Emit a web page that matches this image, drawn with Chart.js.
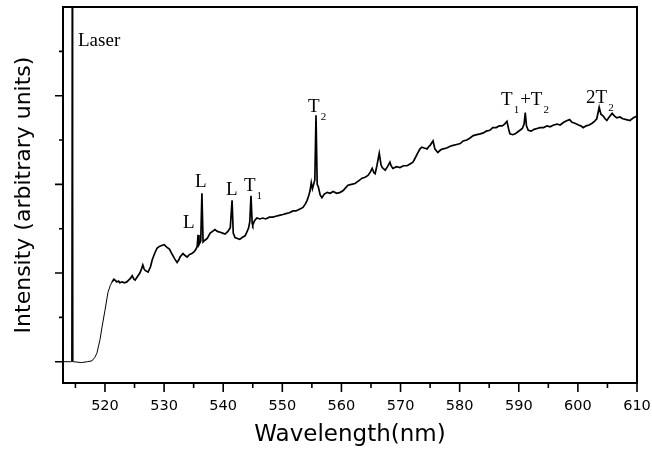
<!DOCTYPE html>
<html lang="en">
<head>
  <meta charset="UTF-8" />
  <title>Raman spectrum</title>
  <style>
    body { margin: 0; background: #fff; }
    .box { width: 652px; height: 453px; }
  </style>
</head>
<body>
  <div class="box">
    <canvas id="espectro"></canvas>
  </div>

  <script src="https://cdn.jsdelivr.net/npm/chart.js"></script>
  <script>
    // spectrum
    const wavelength = [
      512.9, 514.2, 514.35, 514.45, 514.55, 514.7, 516.0, 517.0, 517.8, 518.3,
      518.65, 519.16, 519.5, 520.0, 520.5, 520.9, 521.2, 521.5, 521.7, 522.0,
      522.3, 522.5, 522.9, 523.3, 523.7, 524.0, 524.3, 524.6, 524.9, 525.1,
      525.5, 525.9, 526.2, 526.4, 526.6, 526.8, 527.3, 527.7, 528.0, 528.4,
      528.8, 529.2, 529.6, 530.0, 530.5, 530.9, 531.3, 531.8, 532.2, 532.5,
      532.7, 533.2, 533.5, 533.9, 534.3, 534.7, 535.1, 535.4, 535.6, 535.75,
      535.9, 536.2, 536.4, 536.6, 536.9, 537.3, 537.8, 538.2, 538.6, 539.0,
      539.5, 539.9, 540.3, 540.8, 541.2, 541.5, 541.7, 542.0, 542.4, 542.8,
      543.2, 543.7, 544.0, 544.3, 544.5, 544.7, 544.9, 545.0, 545.3, 545.7,
      546.2, 546.7, 547.2, 547.8, 548.4, 548.9, 549.5, 550.1, 550.6, 551.2,
      551.8, 552.3, 552.9, 553.5, 553.9, 554.2, 554.5, 554.7, 554.9, 555.1,
      555.3, 555.5, 555.7, 555.9, 556.1, 556.4, 556.7, 557.1, 557.6, 558.1,
      558.6, 559.2, 559.8, 560.3, 560.7, 561.1, 561.7, 562.3, 562.9, 563.5,
      564.0, 564.5, 564.9, 565.2, 565.5, 565.7, 566.0, 566.4, 566.7, 566.9,
      567.4, 567.8, 568.2, 568.4, 568.7, 569.3, 569.9, 570.5, 571.1, 571.6,
      572.1, 572.5, 572.96, 573.3, 573.6, 574.0, 574.5, 574.8, 575.0, 575.5,
      575.8, 576.3, 576.8, 577.2, 577.8, 578.4, 578.9, 579.5, 580.1, 580.6,
      581.2, 581.7, 582.3, 582.9, 583.5, 584.0, 584.5, 585.1, 585.6, 586.2,
      586.7, 587.2, 587.6, 588.0, 588.3, 588.5, 589.0, 589.4, 589.8, 590.2,
      590.6, 590.9, 591.1, 591.3, 591.6, 592.1, 592.6, 593.1, 593.6, 594.2,
      594.8, 595.3, 595.9, 596.5, 597.0, 597.6, 598.2, 598.6, 599.0, 599.5,
      600.1, 600.5, 600.9, 601.4, 601.9, 602.4, 602.8, 603.2, 603.6, 603.9,
      604.3, 604.6, 604.9, 605.3, 605.8, 606.2, 606.6, 607.1, 607.6, 608.2,
      608.8, 609.4, 610.0
    ];
    const intensity = [
      0.00, 0.00, 0.00, 5.00, 0.00, 0.00, -0.01, 0.00, 0.01, 0.05,
      0.10, 0.25, 0.39, 0.58, 0.78, 0.86, 0.90, 0.93, 0.92, 0.90,
      0.91, 0.89, 0.90, 0.89, 0.90, 0.92, 0.94, 0.97, 0.93, 0.92,
      0.96, 1.00, 1.05, 1.09, 1.05, 1.03, 1.01, 1.07, 1.15, 1.22,
      1.28, 1.30, 1.31, 1.32, 1.29, 1.27, 1.22, 1.16, 1.12, 1.15,
      1.18, 1.22, 1.20, 1.18, 1.21, 1.22, 1.24, 1.27, 1.30, 1.43,
      1.32, 1.36, 1.90, 1.35, 1.37, 1.39, 1.45, 1.47, 1.49, 1.47,
      1.46, 1.45, 1.44, 1.47, 1.51, 1.82, 1.45, 1.40, 1.39, 1.38,
      1.40, 1.42, 1.46, 1.51, 1.58, 1.87, 1.56, 1.54, 1.59, 1.62,
      1.61, 1.62, 1.61, 1.63, 1.63, 1.64, 1.65, 1.66, 1.67, 1.68,
      1.70, 1.70, 1.72, 1.74, 1.78, 1.82, 1.88, 1.93, 2.02, 1.95,
      2.00, 2.05, 2.78, 2.00, 1.97, 1.88, 1.85, 1.89, 1.91, 1.90,
      1.92, 1.90, 1.91, 1.93, 1.96, 1.99, 2.00, 2.01, 2.04, 2.07,
      2.08, 2.10, 2.14, 2.18, 2.13, 2.12, 2.21, 2.35, 2.22, 2.19,
      2.16, 2.20, 2.25, 2.21, 2.18, 2.20, 2.19, 2.21, 2.21, 2.23,
      2.25, 2.30, 2.36, 2.40, 2.42, 2.41, 2.40, 2.43, 2.44, 2.49,
      2.40, 2.36, 2.39, 2.40, 2.41, 2.43, 2.44, 2.45, 2.46, 2.49,
      2.50, 2.52, 2.55, 2.56, 2.57, 2.58, 2.60, 2.61, 2.64, 2.64,
      2.66, 2.66, 2.68, 2.71, 2.62, 2.57, 2.56, 2.57, 2.59, 2.61,
      2.63, 2.68, 2.81, 2.66, 2.61, 2.60, 2.62, 2.63, 2.64, 2.64,
      2.66, 2.65, 2.67, 2.68, 2.67, 2.70, 2.72, 2.73, 2.70, 2.69,
      2.67, 2.66, 2.64, 2.66, 2.67, 2.69, 2.71, 2.74, 2.87, 2.79,
      2.77, 2.74, 2.72, 2.76, 2.80, 2.77, 2.75, 2.76, 2.74, 2.73,
      2.72, 2.75, 2.77
    ];

    // axis ticks
    const xTickLabels = [520, 530, 540, 550, 560, 570, 580, 590, 600, 610];
    const xMinorTicks = [515, 525, 535, 545, 555, 565, 575, 585, 595, 605];
    const yMajorTicks = [0, 1, 2, 3];
    const yMinorTicks = [0.5, 1.5, 2.5, 3.5];

    // peak labels ("_" = next char is subscript)
    const annoLabels = ['Laser', 'L', 'L', 'L', 'T_1', 'T_2', 'T_1+T_2', '2T_2'];
    const annoWl = [515.44, 533.2, 535.23, 540.48, 543.52, 554.35, 587.0, 601.38];
    const annoVal = [3.56, 1.51, 1.97, 1.88, 1.93, 2.82, 2.90, 2.92];

    const pontos = wavelength.map((w, i) => ({ x: w, y: intensity[i] }));

    const molduraTicks = {
      id: 'molduraTicks',
      afterDraw(chart) {
        const ctx = chart.ctx;
        const a = chart.chartArea;
        const sx = chart.scales.x;
        const sy = chart.scales.y;
        ctx.save();
        ctx.strokeStyle = '#000';
        ctx.lineWidth = 1.6;
        ctx.beginPath();
        xTickLabels.forEach(v => { const p = sx.getPixelForValue(v); ctx.moveTo(p, a.bottom); ctx.lineTo(p, a.bottom + 9); });
        xMinorTicks.forEach(v => { const p = sx.getPixelForValue(v); ctx.moveTo(p, a.bottom); ctx.lineTo(p, a.bottom + 5); });
        yMajorTicks.forEach(v => { const p = sy.getPixelForValue(v); ctx.moveTo(a.left, p); ctx.lineTo(a.left - 8, p); });
        yMinorTicks.forEach(v => { const p = sy.getPixelForValue(v); ctx.moveTo(a.left, p); ctx.lineTo(a.left - 4, p); });
        ctx.stroke();
        ctx.lineWidth = 2;
        ctx.strokeRect(a.left, a.top, a.right - a.left, a.bottom - a.top);

        // labels
        ctx.fillStyle = '#000';
        ctx.textBaseline = 'alphabetic';
        ctx.textAlign = 'left';
        annoLabels.forEach((txt, i) => {
          let x = sx.getPixelForValue(annoWl[i]);
          const y = sy.getPixelForValue(annoVal[i]);
          for (let k = 0; k < txt.length; k++) {
            if (txt[k] === '_') {
              k++;
              ctx.font = '11px "Liberation Serif"';
              x += 1;
              ctx.fillText(txt[k], x, y + 8);
              x += ctx.measureText(txt[k]).width + 1;
            } else {
              ctx.font = '19px "Liberation Serif"';
              ctx.fillText(txt[k], x, y);
              x += ctx.measureText(txt[k]).width;
            }
          }
        });
        ctx.restore();
      }
    };

    new Chart(document.getElementById('espectro'), {
      type: 'line',
      data: {
        datasets: [{
          data: pontos,
          borderColor: '#000',
          borderWidth: 1.7,
          pointRadius: 0,
          tension: 0,
          fill: false,
          segment: {
            // laser line and the steep edge are drawn thin in the original
            borderWidth: c => c.p0.parsed.x < 521 ? 1 : 1.7
          }
        }]
      },
      options: {
        responsive: true,
        maintainAspectRatio: false,
        animation: false,
        layout: { padding: { top: 7, right: 15, left: 0, bottom: 0 } },
        plugins: { legend: { display: false }, tooltip: { enabled: false } },
        scales: {
          x: {
            type: 'linear',
            min: 512.9,
            max: 610,
            afterBuildTicks: s => { s.ticks = xTickLabels.map(v => ({ value: v })); },
            afterFit: s => { s.height = 70; s.paddingRight = 0; s.paddingLeft = 0; },
            grid: { display: false, drawTicks: false },
            border: { display: false },
            ticks: {
              color: '#000',
              padding: 15,
              maxRotation: 0,
              autoSkip: false,
              font: { family: 'DejaVu Sans', size: 14.5 }
            },
            title: {
              display: true,
              text: 'Wavelength(nm)',
              color: '#000',
              padding: { top: 0, bottom: 4 },
              font: { family: 'DejaVu Sans', size: 23 }
            }
          },
          y: {
            min: -0.24,
            max: 4.0,
            afterFit: s => { s.width = 63; },
            grid: { display: false, drawTicks: false },
            border: { display: false },
            ticks: { display: false },
            title: {
              display: true,
              text: 'Intensity (arbitrary units)',
              color: '#000',
              padding: { top: 11, bottom: 0 },
              font: { family: 'DejaVu Sans', size: 22 }
            }
          }
        }
      },
      plugins: [molduraTicks]
    });
  </script>
</body>
</html>
